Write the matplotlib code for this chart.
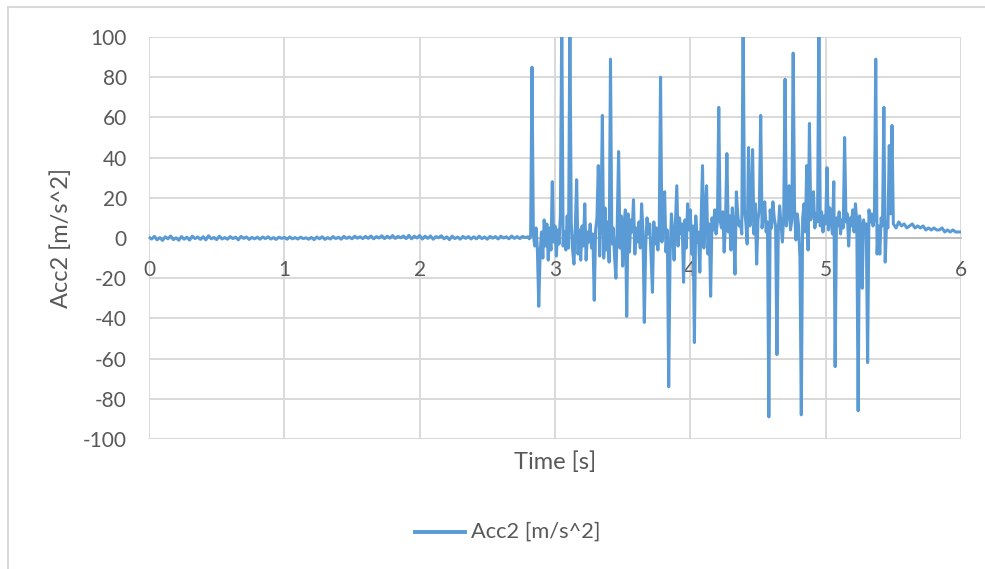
import numpy as np
import matplotlib
matplotlib.use("Agg")
import matplotlib.pyplot as plt
from matplotlib.lines import Line2D

# ---------------- data ----------------
# quiet section, sampled every 0.02 s from 0.00 to 2.78 s
quiet_values = [
    0.3, -0.5, 0.8, -0.9, 0.2, -1.2, 0.6, -0.4, 1.0, -0.8, 0.1, -1.1, 0.7, -0.6, 0.4, -1.0, 0.9, -0.3, 0.5, -0.7,
    0.6, -0.9, 1.1, -0.4, 0.3, -0.8, 0.9, -0.5, 0.2, -0.6, 0.7, -0.3, 0.4, -0.9, 0.8, -0.2, 0.5, -0.7, 0.3, -0.4,
    0.4, -0.6, 0.5, -0.3, 0.6, -0.5, 0.2, -0.7, 0.4, -0.2, 0.3, -0.6, 0.5, -0.4, 0.2, -0.5, 0.4, -0.3, 0.1, -0.6,
    0.3, -0.8, 0.5, -0.4, 0.6, -0.7, 0.2, -0.5, 0.7, -0.3, 0.4, -0.6, 0.8, -0.2, 0.5, -0.4, 0.9, -0.1, 0.6, -0.3,
    0.8, -0.2, 1.0, -0.4, 0.7, 0.0, 1.1, -0.3, 0.9, -0.1, 1.2, -0.2, 0.8, 0.1, 1.0, -0.3, 1.3, -0.4, 0.9, 0.0,
    1.2, -0.5, 0.9, -0.2, 1.0, -0.6, 0.7, 0.1, 1.1, -0.4, 0.6, -0.8, 0.9, -0.3, 0.5, -0.6, 0.8, -0.2, 0.7, -0.5,
    0.6, -0.4, 0.9, -0.3, 0.5, -0.6, 0.8, -0.1, 0.7, -0.5, 0.9, 0.0, 0.6, -0.4, 1.0, -0.2, 0.7, -0.3, 0.8, 0.2,
]
quiet_start, quiet_step = 0.0, 0.02

# impact section, sampled every 0.01 s from 2.80 to 5.49 s
impact_values = [
    0.6, -0.4, 1.0, 85, 2, -4, 5, -6, -34, -8,          # 2.80
    3, -10, 9, -4, 7, -11, 5, -6, 28, -2,               # 2.90
    6, -9, 4, -3, 12, 110, -4, 3, -6, 11,               # 3.00
    -5, 110, 8, -6, -13, 5, 29, -8, 4, -11,             # 3.10
    6, -4, 17, -11, 3, -2, 7, -5, 2, -31,               # 3.20
    4, 10, 36, -9, 12, 61, -10, 15, -6, 8,              # 3.30
    -12, 89, -3, 5, -9, -20, 7, 43, -5, 11,             # 3.40
    -14, 6, 14, -39, 12, -7, 9, 3, 19, -8,              # 3.50
    5, -2, 8, -5, 17, 3, -42, -4, 10, 2,                # 3.60
    7, -9, -27, 8, -3, 5, -6, 4, 80, -2,                # 3.70
    9, 23, -7, 4, -74, -10, 12, 3, -11, 8,              # 3.80
    26, -4, 10, 2, 7, -22, 9, -5, 17, 4,                # 3.90
    14, -8, 6, -52, 11, -2, 3, -17, 9, 36,              # 4.00
    -5, 12, 26, -8, 7, -29, 10, 4, 14, 2,               # 4.10
    8, 65, 9, 5, 13, -7, 8, 42, 3, 11,                  # 4.20
    -6, 15, 4, -18, 23, 12, 6, 8, 2, 110,               # 4.30
    14, 8, -3, 45, 6, 10, 44, 2, 17, -13,               # 4.40
    9, 15, 61, 5, 12, 18, 3, 8, -89, 14,                # 4.50
    5, 18, 10, 6, -58, 4, 16, 7, -2, 11,                # 4.60
    79, 6, 13, 26, 4, 9, 92, 15, -1, 12,                # 4.70
    6, -10, -88, 10, 17, 3, 36, -6, 57, 9,              # 4.80
    14, 23, 5, 12, 8, 110, 6, 13, 3, 11,                # 4.90
    7, 35, 4, 15, 8, 2, 28, -64, 10, 6,                 # 5.00
    13, 2, 9, 5, 50, 8, 12, -4, 10, 6,                  # 5.10
    14, 3, 17, 8, -86, 11, 6, -25, 9, 4,                # 5.20
    7, -62, 14, 8, 12, 6, 10, 89, -8, 6,                # 5.30
    -8, 10, 6, 65, -12, 8, 5, 46, 12, 56,               # 5.40
]
impact_start, impact_step = 2.80, 0.01

# decay section, sampled every 0.02 s from 5.50 to 6.00 s
tail_values = [7, 5, 8, 6, 7, 5, 6, 7, 5, 6, 5, 6, 4, 5, 4, 5, 4, 4, 5, 3, 4, 3, 4, 3, 3, 3]
tail_start, tail_step = 5.50, 0.02

series_name = "Acc2 [m/s^2]"
x_label = "Time [s]"
y_label = "Acc2 [m/s^2]"
x_ticks = [0, 1, 2, 3, 4, 5, 6]
y_ticks = [-100, -80, -60, -40, -20, 0, 20, 40, 60, 80, 100]

# ---------------- assemble ----------------
t = np.concatenate([
    quiet_start + quiet_step * np.arange(len(quiet_values)),
    impact_start + impact_step * np.arange(len(impact_values)),
    tail_start + tail_step * np.arange(len(tail_values)),
])
v = np.concatenate([quiet_values, impact_values, tail_values]).astype(float)

# ---------------- style ----------------
plt.rcParams['font.family'] = ['Lato', 'DejaVu Sans']
plt.rcParams['axes.unicode_minus'] = False
TXT = '#595959'
GRID = '#d9d9d9'
LINE = '#5b9bd5'

W, H = 985, 569
fig = plt.figure(figsize=(W / 100, H / 100), dpi=100)
fig.patch.set_facecolor('white')

L, R, T, B = 149, 961, 37, 439
ax = fig.add_axes([L / W, 1 - B / H, (R - L) / W, (B - T) / H])

ax.plot(t, v, color=LINE, lw=2.2, solid_joinstyle='round', label=series_name, zorder=3)

ax.set_xlim(0, 6)
ax.set_ylim(-100, 100)
ax.set_xticks(x_ticks)
ax.set_yticks(y_ticks)
ax.grid(True, color=GRID, lw=1.4, zorder=0)
ax.set_axisbelow(True)

for s in ['top', 'right', 'left']:
    ax.spines[s].set_visible(False)
ax.spines['bottom'].set_position(('data', 0))
ax.spines['bottom'].set_color('#bfbfbf')
ax.spines['bottom'].set_linewidth(1.4)
ax.spines['bottom'].set_zorder(1)

ax.tick_params(axis='both', length=0, labelsize=15, colors=TXT)
ax.tick_params(axis='x', pad=16)
ax.tick_params(axis='y', pad=16)

fig.text(61 / W, 1 - 238 / H, y_label, rotation=90, ha='center', va='center',
         fontsize=17, color=TXT)
fig.text(555 / W, 1 - 462 / H, x_label, ha='center', va='center',
         fontsize=17, color=TXT)

# legend (drawn manually at bottom)
fig.add_artist(Line2D([413 / W, 467 / W], [1 - 532 / H, 1 - 532 / H], color=LINE, lw=2.8,
                      solid_capstyle='butt'))
fig.text(471 / W, 1 - 532 / H, series_name, ha='left', va='center', fontsize=15.7, color=TXT)

# chart-area border
fig.add_artist(Line2D([8 / W, 8 / W], [0, 1 - 7 / H], color=GRID, lw=1.5))
fig.add_artist(Line2D([8 / W, 1], [1 - 7 / H, 1 - 7 / H], color=GRID, lw=1.5))

fig.savefig('out.png', dpi=100, facecolor='white')
